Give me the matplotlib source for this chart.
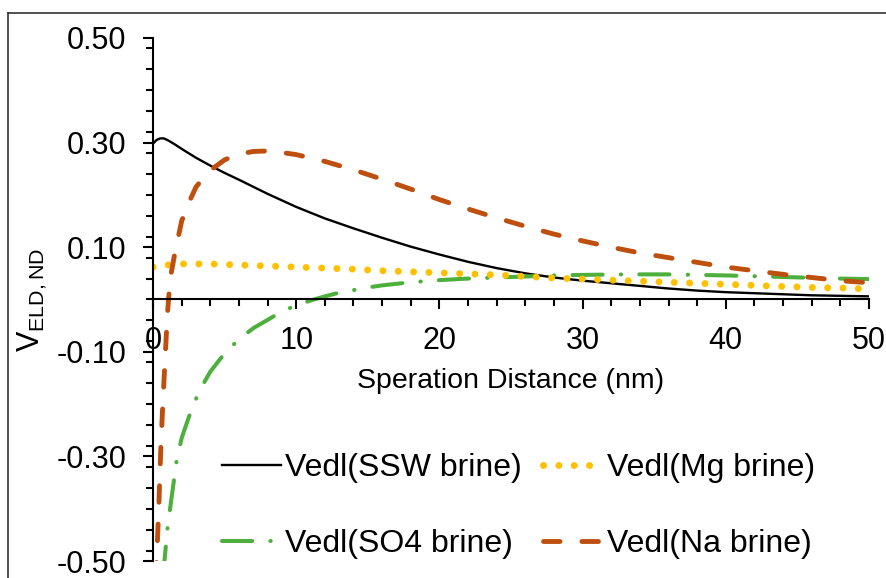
import matplotlib
matplotlib.use("Agg")
import matplotlib.pyplot as plt
from matplotlib.lines import Line2D
from matplotlib.ticker import MultipleLocator, FormatStrFormatter

plt.rcParams["font.family"] = ["Liberation Sans", "DejaVu Sans"]
plt.rcParams["axes.unicode_minus"] = False

# values
ssw_x = [0, 0.25, 0.5, 0.75, 1, 1.5, 2, 3, 4, 5, 6, 8, 10, 12, 14, 16, 18, 20, 22, 24,
         26, 28, 30, 32, 34, 36, 38, 40, 42, 44, 46, 48, 50]
ssw_y = [0.298, 0.305, 0.308, 0.308, 0.305, 0.297, 0.288, 0.271, 0.256, 0.242, 0.229,
         0.202, 0.177, 0.155, 0.136, 0.118, 0.101, 0.086, 0.072, 0.060, 0.050, 0.042,
         0.036, 0.031, 0.026, 0.021, 0.017, 0.014, 0.012, 0.010, 0.008, 0.007, 0.006]

mg_x = [0, 1, 2, 4, 6, 8, 10, 12, 14, 16, 18, 20, 22, 24, 26, 28, 30, 32, 34, 36,
        38, 40, 42, 44, 46, 48, 50]
mg_y = [0.062, 0.066, 0.068, 0.068, 0.066, 0.064, 0.062, 0.060, 0.058, 0.055, 0.053,
        0.051, 0.049, 0.047, 0.044, 0.041, 0.039, 0.037, 0.035, 0.033, 0.031, 0.029,
        0.027, 0.025, 0.023, 0.022, 0.020]

so4_x = [0.7, 1, 1.3, 1.65, 2, 2.5, 3, 3.5, 4, 5, 6, 7, 8, 9, 10, 11, 12, 13, 14, 15,
         16, 18, 20, 22, 24, 26, 28, 30, 33, 36, 40, 44, 48, 50]
so4_y = [-0.53, -0.44, -0.378, -0.308, -0.265, -0.225, -0.19, -0.162, -0.138, -0.103,
         -0.076, -0.055, -0.039, -0.023, -0.011, -0.002, 0.006, 0.013, 0.018, 0.023,
         0.027, 0.033, 0.037, 0.040, 0.042, 0.044, 0.046, 0.047, 0.048, 0.048, 0.046,
         0.043, 0.040, 0.039]

na_x = [0.2, 0.25, 0.4, 0.55, 0.7, 0.85, 1.0, 1.2, 1.5, 2, 2.5, 3, 3.5, 4, 5, 6, 7, 8,
        9, 10, 12, 14, 16, 18, 20, 22, 24, 26, 28, 30, 32, 34, 36, 38, 40, 42, 44, 46,
        48, 50]
na_y = [-0.56, -0.50, -0.40, -0.28, -0.19, -0.11, -0.03, 0.04, 0.085, 0.15, 0.185,
        0.215, 0.232, 0.247, 0.267, 0.278, 0.283, 0.284, 0.281, 0.277, 0.264, 0.248,
        0.230, 0.211, 0.191, 0.173, 0.156, 0.140, 0.125, 0.112, 0.100, 0.089, 0.080,
        0.071, 0.062, 0.055, 0.048, 0.042, 0.036, 0.032]

fig = plt.figure(figsize=(8.86, 5.78), dpi=100)
ax = fig.add_axes([0.1727, 0.0294, 0.8081, 0.9049])

l_ssw, = ax.plot(ssw_x, ssw_y, color="black", lw=1.7, label="Vedl(SSW brine)")
l_so4, = ax.plot(so4_x, so4_y, color="#4DAF3C", lw=2.9, linestyle=(0, (7.5, 4.5, 0.1, 4.5)),
                 dash_capstyle="round", label="Vedl(SO4 brine)")
l_mg, = ax.plot(mg_x, mg_y, color="#FFC000", lw=5, linestyle=(0, (0.01, 2.2)),
                dash_capstyle="round", label="Vedl(Mg brine)")
l_na, = ax.plot(na_x, na_y, color="#BF4F0E", lw=3.5, linestyle=(0, (3.4, 4.5)),
                dash_capstyle="round", label="Vedl(Na brine)")

ax.set_xlim(0, 50)
ax.set_ylim(-0.5, 0.5)
ax.spines["top"].set_visible(False)
ax.spines["right"].set_visible(False)
ax.spines["left"].set_position(("data", 0))
ax.spines["bottom"].set_position(("data", 0))
for s in ("left", "bottom"):
    ax.spines[s].set_linewidth(1.5)

ax.xaxis.set_major_locator(MultipleLocator(10))
ax.xaxis.set_minor_locator(MultipleLocator(2))
ax.set_yticks([-0.5, -0.3, -0.1, 0.1, 0.3, 0.5])
ax.yaxis.set_minor_locator(MultipleLocator(0.04))
ax.yaxis.set_major_formatter(FormatStrFormatter("%.2f"))
ax.tick_params(which="major", direction="out", length=7, width=1.5, labelsize=22)
ax.tick_params(which="minor", direction="out", length=5, width=1.5)
ax.tick_params(axis="x", which="major", pad=12)
ax.tick_params(axis="y", which="major", pad=12)

ax.set_xlabel("Speration Distance (nm)", fontsize=20.5)
ax.xaxis.set_label_coords(0.5, 0.369)
ax.xaxis.label.set_va("top")

fig.text(0.036, 0.481, "V$_{\\mathregular{ELD,ND}}$", rotation=90, ha="center", va="center",
         fontsize=22)

ax.legend(handles=[l_ssw, l_so4, l_mg, l_na], ncol=2, loc="center",
          bbox_to_anchor=(0.585, 0.1246), bbox_transform=fig.transFigure,
          frameon=False, fontsize=23, handlelength=1.85, handletextpad=0.15,
          columnspacing=0.65, labelspacing=1.45, borderpad=0)

# chart frame (only the left and top edges are inside the picture)
fig.add_artist(Line2D([8 / 886, 8 / 886], [0, 1 - 13 / 578], color="#222222", lw=1.1))
fig.add_artist(Line2D([8 / 886, 1], [1 - 13 / 578, 1 - 13 / 578], color="#222222", lw=1.1))

fig.savefig("out.png", dpi=100)
